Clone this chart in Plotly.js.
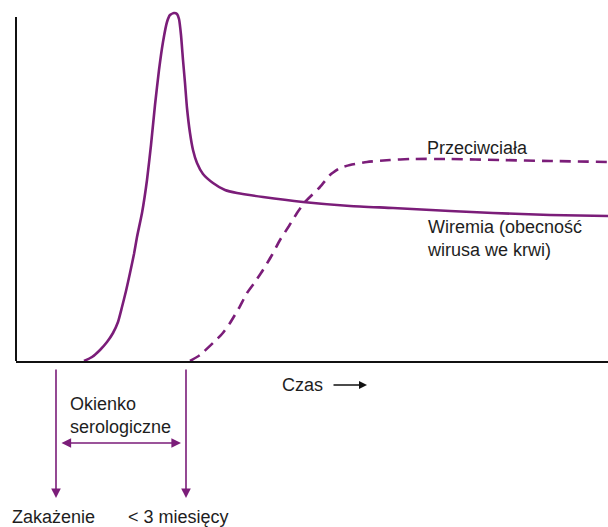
<!DOCTYPE html>
<html>
<head>
<meta charset="utf-8">
<script src="https://cdn.plot.ly/plotly-3.0.1.min.js"></script>
<style>html,body{margin:0;padding:0;background:#fff;}#chart{width:608px;height:527px;}</style>
</head>
<body>
<div id="chart"></div>
<script>
// Wiremia (viremia) curve: time vs level (arbitrary units)
const viremiaTime = [68,76,84,91,97,102,106,110,114,118,121,126,131,135,139,143,147,151,154,158,161,163,165,167,169,171,174,177,181,187,197,209,221,247,287,334,377,434,477,534,592];
const viremiaLevel = [0,4,11,19,28,39,54,70,88,107,124,148,181,216,256,291,319,339,346,348,347,342,326,301,278,253,228,211,198,187,178,171,168,164,159,155,153,150,148,146,145];
// Przeciwciała (antibodies) curve
const antibodyTime = [174,184,197,206,214,223,231,239,247,256,264,273,281,289,296,304,314,324,334,351,374,394,434,484,534,592];
const antibodyLevel = [0,6,18,27,38,53,68,79,91,106,121,135,148,159,166,174,186,193,196,199,201,202,202,201,200,199];

const purple = '#7b1d79';
const textColor = '#1e1e1e';
const fontFam = 'Liberation Sans, Arial, sans-serif';
// pixel position -> paper coords (plot area spans cols 16..608, rows 5..361)
const PT = 5, PB = 361;
const py = r => (PB - r) / (PB - PT);
const px = c => (c - 16) / 592;

const traces = [
  {x: viremiaTime, y: viremiaLevel, mode: 'lines', type: 'scatter',
   line: {color: purple, width: 2.6, shape: 'spline', smoothing: 0.5}, hoverinfo: 'skip'},
  {x: antibodyTime, y: antibodyLevel, mode: 'lines', type: 'scatter',
   line: {color: purple, width: 2.6, shape: 'spline', smoothing: 0.5, dash: '11px,7px'}, hoverinfo: 'skip'}
];

const f = {family: fontFam, size: 18, color: textColor};
const annotations = [
  {xref: 'paper', yref: 'paper', x: px(425), y: py(148), text: 'Przeciwciała', showarrow: false, xanchor: 'left', yanchor: 'middle', font: f},
  {xref: 'paper', yref: 'paper', x: px(425), y: py(239), text: 'Wiremia (obecność<br>wirusa we krwi)', showarrow: false, xanchor: 'left', yanchor: 'middle', align: 'left', font: f},
  {xref: 'paper', yref: 'paper', x: px(280), y: py(385), text: 'Czas', showarrow: false, xanchor: 'left', yanchor: 'middle', font: f},
  {xref: 'paper', yref: 'paper', x: px(367), y: py(385), text: '', showarrow: true, ax: -35, ay: 0,
   arrowhead: 2, arrowsize: 1, arrowwidth: 1.6, arrowcolor: '#111'},
  {xref: 'paper', yref: 'paper', x: px(68), y: py(415), text: 'Okienko<br>serologiczne', showarrow: false, xanchor: 'left', yanchor: 'middle', align: 'left', font: f},
  {xref: 'paper', yref: 'paper', x: px(10), y: py(517), text: 'Zakażenie', showarrow: false, xanchor: 'left', yanchor: 'middle', font: f},
  {xref: 'paper', yref: 'paper', x: px(126), y: py(517), text: '&lt; 3 miesięcy', showarrow: false, xanchor: 'left', yanchor: 'middle', font: f},
  // vertical arrows
  {xref: 'paper', yref: 'paper', x: px(56), y: py(498), text: '', showarrow: true, ax: 0, ay: -130,
   arrowhead: 2, arrowsize: 1.2, arrowwidth: 1.6, arrowcolor: purple},
  {xref: 'paper', yref: 'paper', x: px(186), y: py(498), text: '', showarrow: true, ax: 0, ay: -130,
   arrowhead: 2, arrowsize: 1.2, arrowwidth: 1.6, arrowcolor: purple},
  // double arrow
  {xref: 'paper', yref: 'paper', x: px(181), y: py(443), text: '', showarrow: true, ax: -121, ay: 0,
   arrowhead: 2, startarrowhead: 2, arrowside: 'end+start', arrowsize: 1.2, startarrowsize: 1.2, arrowwidth: 1.6, arrowcolor: purple}
];

const layout = {
  width: 608, height: 527,
  margin: {l: 16, r: 0, t: PT, b: 527 - PB, pad: 0},
  paper_bgcolor: '#fff', plot_bgcolor: '#fff',
  showlegend: false,
  xaxis: {range: [0, 592], showline: true, linecolor: '#111', linewidth: 2, showgrid: false, zeroline: false,
          showticklabels: false, ticks: '', fixedrange: true},
  yaxis: {range: [0, PB - PT], showline: false, showgrid: false, zeroline: false,
          showticklabels: false, ticks: '', fixedrange: true},
  shapes: [
    // left vertical axis line (rows 17..361)
    {type: 'line', xref: 'paper', yref: 'paper', x0: 0, x1: 0, y0: 0, y1: py(17),
     line: {color: '#111', width: 2}, layer: 'above'}
  ],
  annotations: annotations,
  font: {family: fontFam}
};

Plotly.newPlot('chart', traces, layout, {staticPlot: true, displayModeBar: false});
</script>
</body>
</html>
